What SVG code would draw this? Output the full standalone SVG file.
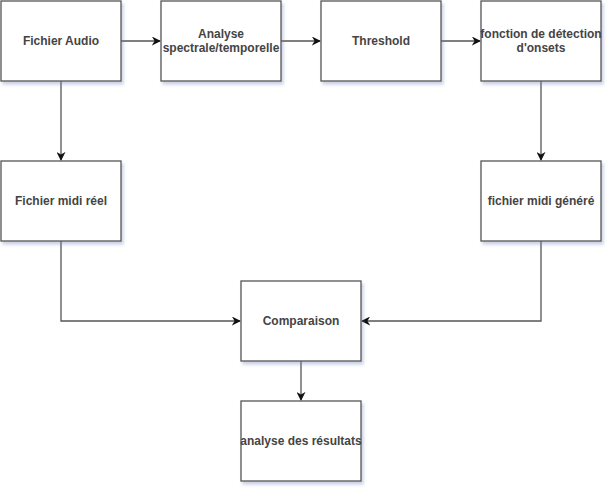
<svg xmlns="http://www.w3.org/2000/svg" width="612" height="492" viewBox="0 0 612 492">
<defs>
<filter id="sh" x="-10%" y="-10%" width="130%" height="130%">
<feDropShadow dx="2" dy="3" stdDeviation="1.5" flood-color="#6b7fb8" flood-opacity="0.35"/>
</filter>
<marker id="ar" viewBox="0 0 10 10" refX="9" refY="5" markerWidth="9" markerHeight="9" markerUnits="userSpaceOnUse" orient="auto">
<path d="M0,0 L10,5 L0,10 L3,5 Z" fill="#111"/>
</marker>
</defs>
<style>
.b{fill:#fff;stroke:#555;stroke-width:1.3;filter:url(#sh)}
.t{font-family:"Liberation Sans",Arial,sans-serif;font-size:12px;font-weight:bold;fill:#444;text-anchor:middle}
.c{fill:none;stroke:#555;stroke-width:1.3;marker-end:url(#ar)}
</style>
<rect width="612" height="492" fill="#fff"/>
<g id="connectors">
<path class="c" d="M121,41 H160"/>
<path class="c" d="M281,41 H320"/>
<path class="c" d="M441,41 H480"/>
<path class="c" d="M61,81 V160"/>
<path class="c" d="M541,81 V160"/>
<path class="c" d="M61,241 V321 H240"/>
<path class="c" d="M541,241 V321 H362"/>
<path class="c" d="M301,361 V400"/>
</g>
<g id="n1"><rect class="b" x="1" y="1" width="120" height="80"/><text class="t" x="61" y="45">Fichier Audio</text></g>
<g id="n2"><rect class="b" x="161" y="1" width="120" height="80"/><text class="t" x="221" y="38">Analyse</text><text class="t" x="221" y="52">spectrale/temporelle</text></g>
<g id="n3"><rect class="b" x="321" y="1" width="120" height="80"/><text class="t" x="381" y="45">Threshold</text></g>
<g id="n4"><rect class="b" x="481" y="1" width="120" height="80"/><text class="t" x="541" y="38">fonction de détection</text><text class="t" x="541" y="52">d'onsets</text></g>
<g id="n5"><rect class="b" x="1" y="161" width="120" height="80"/><text class="t" x="61" y="205">Fichier midi réel</text></g>
<g id="n6"><rect class="b" x="481" y="161" width="120" height="80"/><text class="t" x="541" y="205">fichier midi généré</text></g>
<g id="n7"><rect class="b" x="241" y="281" width="120" height="80"/><text class="t" x="301" y="325">Comparaison</text></g>
<g id="n8"><rect class="b" x="241" y="401" width="120" height="80"/><text class="t" x="301" y="445">analyse des résultats</text></g>
</svg>
